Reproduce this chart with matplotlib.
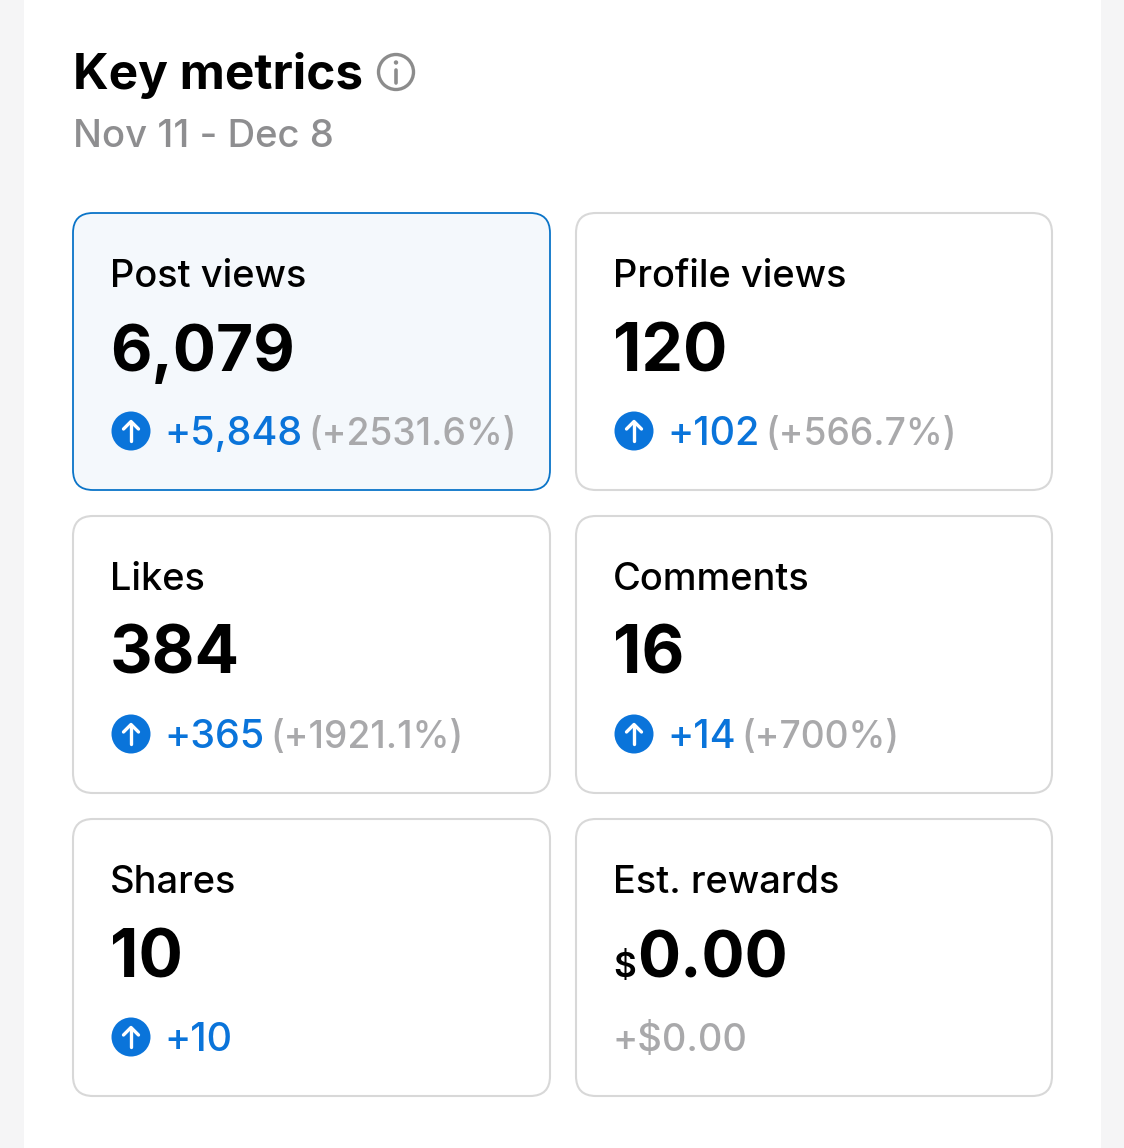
"""
Key metrics summary cards, drawn in pixel coordinates of the 1124x1148 screenshot.
"""

import matplotlib
matplotlib.use("Agg")
import matplotlib.pyplot as plt
from matplotlib.patches import Circle, FancyBboxPatch, Rectangle

W, H = 1124, 1148
DPI = 100
FONT = "Inter"

BLUE = "#0a74da"
GREY = "#a9a9ab"
BLACK = "#000000"

# Card contents, row by row
labels = ["Post views", "Profile views", "Likes", "Comments", "Shares", "Est. rewards"]
values = ["6,079", "120", "384", "16", "10", "0.00"]
deltas = ["+5,848", "+102", "+365", "+14", "+10", "+$0.00"]
percents = ["(+2531.6%)", "(+566.7%)", "(+1921.1%)", "(+700%)", "", ""]
rising = [True, True, True, True, True, False]

title = "Key metrics"
date_range = "Nov 11 - Dec 8"


def px(size):
    # font size given in pixels -> points
    return size * 72 / DPI


def right_edge(artist, ax, renderer):
    box = artist.get_window_extent(renderer)
    return ax.transData.inverted().transform((box.x1, box.y0))[0]


def draw_card(ax, renderer, i):
    col, row = i % 2, i // 2
    x0 = 73 + col * 503
    y0 = 213 + row * 303
    width = 476 if col else 477
    selected = i == 0
    ax.add_patch(FancyBboxPatch(
        (x0 + 20, y0 + 20), width - 40, 277 - 40,
        boxstyle="round,pad=20,rounding_size=20",
        facecolor="#f4f8fc" if selected else "white",
        edgecolor="#0a74c8" if selected else "#d8d8d8",
        lw=1.3 if selected else 1.5, zorder=2,
    ))

    tx = x0 + 37
    ax.text(tx, y0 + 74, labels[i], fontsize=px(38), color=BLACK,
            family=FONT, weight="medium", va="baseline", zorder=3)

    # the reward card has a small dollar sign in front of its value
    vx = tx
    if labels[i] == "Est. rewards":
        t = ax.text(tx, y0 + 158, "$", fontsize=px(35), color=BLACK,
                    family=FONT, weight="semibold", va="baseline", zorder=3)
        vx = right_edge(t, ax, renderer) + 1
    # Inter's , and . run wider than the screenshot's font, so those values go a bit smaller
    vsize = 64 if "," in values[i] or "." in values[i] else 66
    ax.text(vx, y0 + 158, values[i], fontsize=px(vsize), color=BLACK, family=FONT,
            weight="bold", va="baseline", zorder=3)

    # change line
    base = y0 + 232
    if rising[i]:
        cx, cy = tx + 21, y0 + 218
        ax.add_patch(Circle((cx, cy), 19.5, facecolor=BLUE, edgecolor="none", zorder=3))
        ax.plot([cx, cx], [cy - 9.5, cy + 10], color="white", lw=2.4,
                solid_capstyle="round", zorder=4)
        ax.plot([cx - 7.5, cx, cx + 7.5], [cy - 2, cy - 9.5, cy - 2], color="white",
                lw=2.4, solid_capstyle="round", solid_joinstyle="round", zorder=4)
        dx = tx + 54
        dcolor = BLUE
        dsize = 39.5
    else:
        dx = tx
        dcolor = GREY
        dsize = 38
    t = ax.text(dx, base, deltas[i], fontsize=px(dsize), color=dcolor, family=FONT,
                weight="medium", va="baseline", zorder=3)
    if percents[i]:
        ax.text(right_edge(t, ax, renderer) + 6, base, percents[i], fontsize=px(37.2),
                color=GREY, family=FONT, weight="medium", va="baseline", zorder=3)


def main():
    fig = plt.figure(figsize=(W / DPI, H / DPI), dpi=DPI, facecolor="#f5f5f6")
    ax = fig.add_axes([0, 0, 1, 1])
    ax.set_xlim(0, W)
    ax.set_ylim(H, 0)
    ax.axis("off")
    ax.add_patch(Rectangle((24, 0), 1077, H, facecolor="white", edgecolor="none", zorder=1))

    renderer = fig.canvas.get_renderer()

    ax.text(73, 89, title, fontsize=px(49.5), color=BLACK, family=FONT, weight="bold",
            va="baseline", zorder=3)
    ax.text(73, 147, date_range, fontsize=px(38.3), color="#8e8e90", family=FONT,
            weight="medium", va="baseline", zorder=3)

    # info icon next to the title
    ax.add_patch(Circle((396, 72), 17.5, facecolor="none", edgecolor="#8c8c8c", lw=2.4, zorder=3))
    ax.plot([396, 396], [70, 83], color="#8c8c8c", lw=2.6, solid_capstyle="round", zorder=3)
    ax.add_patch(Circle((396, 62.5), 2.2, facecolor="#8c8c8c", edgecolor="none", zorder=3))

    for i in range(len(labels)):
        draw_card(ax, renderer, i)

    fig.savefig("out.png", dpi=DPI, facecolor=fig.get_facecolor())
    plt.close(fig)


if __name__ == "__main__":
    main()
